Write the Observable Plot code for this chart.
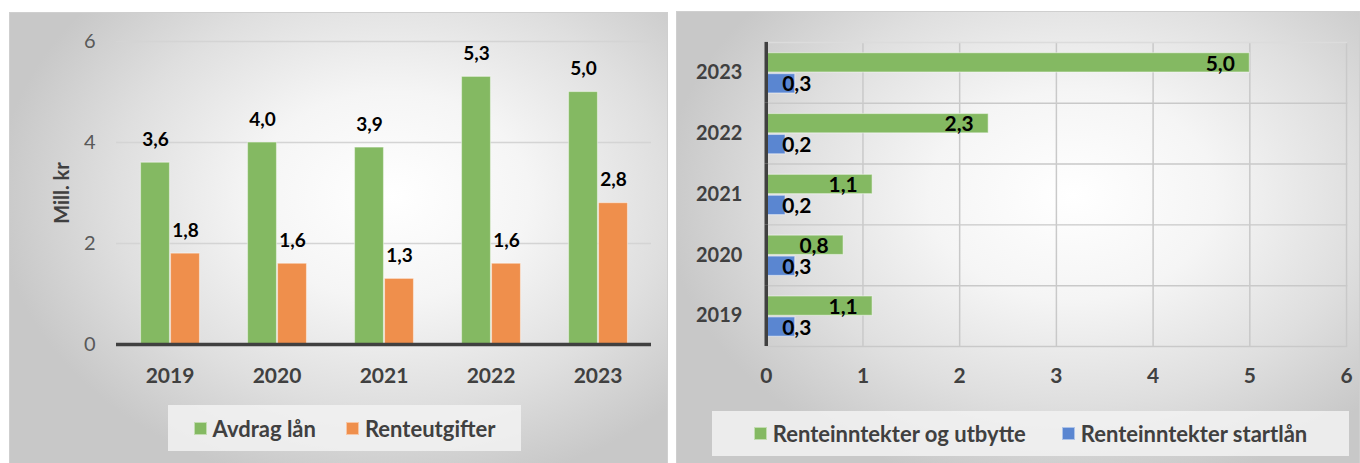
<!DOCTYPE html>
<html>
<head>
<meta charset="utf-8">
<script src="https://cdn.jsdelivr.net/npm/d3@7"></script>
<script src="https://cdn.jsdelivr.net/npm/@observablehq/plot@0.6"></script>
<style>
  html, body { margin: 0; padding: 0; background: #fff; }
  body { width: 1360px; height: 463px; position: relative; overflow: hidden; font-family: Lato, "Open Sans", sans-serif; }
  .panel { position: absolute; top: 12px; height: 460px;
    background: radial-gradient(ellipse 60% 65% at 58% 40%, #ffffff 0%, #f5f5f5 35%, #dfdfdf 70%, #c8c8c8 100%);
    border: 1px solid #cfcfcf; box-sizing: border-box; }
  #left { left: 9px; width: 659px; }
  #right { left: 676px; width: 684px; top: 11px; }
  .panel svg { position: absolute; left: 0; top: 0; background: transparent !important; overflow: visible; }
  .legend { position: absolute; background: rgba(242,242,242,0.85); display: flex; align-items: center; justify-content: center; gap: 30px;
    font: bold 22px Lato, sans-serif; color: #404040; }
  .legend .item { display: flex; align-items: center; gap: 6px; }
  .legend .sw { width: 13px; height: 13px; display: inline-block; box-sizing: border-box; border: 1px solid rgba(255,255,255,0.5); }
</style>
</head>
<body>
<div id="left" class="panel"></div>
<div id="right" class="panel"></div>
<script>
// ---- data ----
const years = ["2019", "2020", "2021", "2022", "2023"];
const leftSeries = ["Avdrag lån", "Renteutgifter"];
const avdragLan = [3.6, 4.0, 3.9, 5.3, 5.0];
const renteutgifter = [1.8, 1.6, 1.3, 1.6, 2.8];
const leftTicks = [0, 2, 4, 6];
const leftAxisLabel = "Mill. kr";

const rightSeries = ["Renteinntekter og utbytte", "Renteinntekter startlån"];
const renteUtbytte = [1.1, 0.8, 1.1, 2.3, 5.0];
const renteStartlan = [0.3, 0.3, 0.2, 0.2, 0.3];
const rightTicks = [0, 1, 2, 3, 4, 5, 6];

const leftColors = ["#84b962", "#ef8f4c"];
const rightColors = ["#84b962", "#5a86d1"];
const fmt = v => v.toFixed(1).replace(".", ",");

// ---- left chart ----
const leftData = years.flatMap((y, i) => [
  {year: y, series: leftSeries[0], value: avdragLan[i]},
  {year: y, series: leftSeries[1], value: renteutgifter[i]}
]);

const left = Plot.plot({
  width: 657, height: 400,
  marginLeft: 106, marginRight: 16, marginTop: 28, marginBottom: 69,
  style: {fontFamily: "Lato, sans-serif", background: "transparent", overflow: "visible"},
  fx: {domain: years, padding: 0, label: null},
  x: {domain: leftSeries, paddingInner: 0, paddingOuter: 0.78, axis: null},
  y: {domain: [0, 6], label: null},
  color: {domain: leftSeries, range: leftColors},
  marks: [
    Plot.ruleY([2, 4, 6], {stroke: "#d4d4d4", strokeWidth: 1.5}),
    Plot.axisY(leftTicks, {tickSize: 0, tickPadding: 21, fontSize: 20, fill: "#595959", tickFormat: d => String(d), label: leftAxisLabel, labelAnchor: "center", labelArrow: "none", labelOffset: 62}),
    Plot.axisFx({anchor: "bottom", tickSize: 0, tickPadding: 24, fontSize: 21, fontWeight: "bold", fill: "#404040", label: null}),
    Plot.barY(leftData, {fx: "year", x: "series", y: "value", fill: "series", stroke: "#ffffff", strokeOpacity: 0.45, strokeWidth: 1.2, insetLeft: 0.5, insetRight: 0.5}),
    Plot.ruleY([0], {stroke: "#404040", strokeWidth: 3.5}),
    Plot.text(leftData, {fx: "year", x: "series", y: "value", text: d => fmt(d.value), dy: -23, fontSize: 19, fontWeight: "bold", fill: "#000"})
  ]
});
document.getElementById("left").appendChild(left);
{
  const lbl = left.querySelector('[aria-label="y-axis label"] text');
  if (lbl) { lbl.setAttribute("font-weight", "bold"); lbl.setAttribute("font-size", "20"); lbl.setAttribute("fill", "#404040"); }
}
const legL = document.createElement("div");
legL.className = "legend";
legL.style.cssText = "left:158px; top:392px; width:353px; height:46px;";
legL.innerHTML = leftSeries.map((s, i) => `<span class="item"><span class="sw" style="background:${leftColors[i]}"></span>${s}</span>`).join("");
document.getElementById("left").appendChild(legL);

// ---- right chart ----
const rightData = years.flatMap((y, i) => [
  {year: y, series: rightSeries[0], value: renteUtbytte[i]},
  {year: y, series: rightSeries[1], value: renteStartlan[i]}
]);

const right = Plot.plot({
  width: 684, height: 400,
  marginLeft: 89, marginRight: 13, marginTop: 28, marginBottom: 63,
  style: {fontFamily: "Lato, sans-serif", background: "transparent", overflow: "visible"},
  fy: {domain: years.slice().reverse(), padding: 0, label: null},
  y: {domain: rightSeries, paddingInner: 0, paddingOuter: 0.435, axis: null},
  x: {domain: [0, 6], label: null},
  color: {domain: rightSeries, range: rightColors},
  marks: [
    Plot.ruleX([1, 2, 3, 4, 5, 6], {stroke: "#c9c9c9", strokeWidth: 1.5}),
    Plot.frame({anchor: "bottom", stroke: "#c9c9c9", strokeWidth: 1.5}),
    Plot.frame({anchor: "top", stroke: "#dcdcdc", strokeWidth: 1.5, facetAnchor: "top"}),
    Plot.axisX(rightTicks, {tickSize: 0, tickPadding: 22, fontSize: 21, fontWeight: "bold", fill: "#404040", label: null}),
    Plot.axisFy({anchor: "left", tickSize: 0, tickPadding: 24, fontSize: 20, fontWeight: "bold", fill: "#404040", label: null}),
    Plot.barX(rightData, {fy: "year", y: "series", x: "value", fill: "series", stroke: "#ffffff", strokeOpacity: 0.45, strokeWidth: 1.2, insetTop: 0.8, insetBottom: 0.8}),
    Plot.ruleX([0], {stroke: "#404040", strokeWidth: 3.5}),
    Plot.text(rightData.filter(d => d.series === rightSeries[0]), {fy: "year", y: "series", x: "value", text: d => fmt(d.value), textAnchor: "end", dx: -15, dy: 1, fontSize: 21, fontWeight: "bold", fill: "#000"}),
    Plot.text(rightData.filter(d => d.series === rightSeries[1]), {fy: "year", y: "series", x: 0, text: d => fmt(d.value), textAnchor: "start", dx: 16, dy: 1, fontSize: 21, fontWeight: "bold", fill: "#000"})
  ]
});
document.getElementById("right").appendChild(right);
const legR = document.createElement("div");
legR.className = "legend";
legR.style.cssText = "left:35px; top:399px; width:637px; height:45px; gap:36px;";
legR.innerHTML = rightSeries.map((s, i) => `<span class="item"><span class="sw" style="background:${rightColors[i]}"></span>${s}</span>`).join("");
document.getElementById("right").appendChild(legR);
</script>
</body>
</html>
